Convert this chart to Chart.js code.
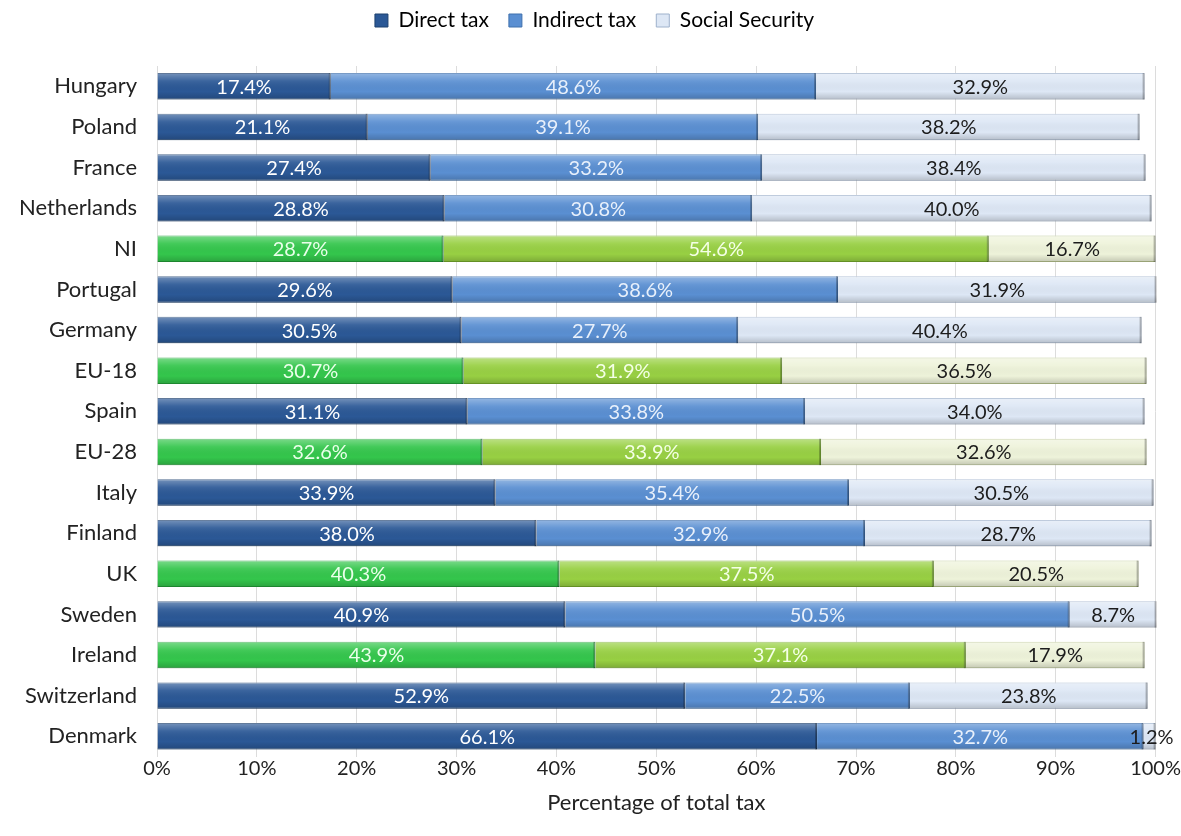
<!DOCTYPE html>
<html>
<head>
<meta charset="utf-8">
<script src="https://cdn.jsdelivr.net/npm/chart.js@4"></script>
<style>
  html, body { margin: 0; padding: 0; background: #fff; }
  #wrap { width: 1181px; height: 836px; }
</style>
</head>
<body>
<div id="wrap"><canvas id="myChart" width="1181" height="836"></canvas></div>
<script>
const categories = ['Hungary', 'Poland', 'France', 'Netherlands', 'NI', 'Portugal', 'Germany', 'EU-18', 'Spain',
    'EU-28', 'Italy', 'Finland', 'UK', 'Sweden', 'Ireland', 'Switzerland', 'Denmark'];
const directTax = [17.4, 21.1, 27.4, 28.8, 28.7, 29.6, 30.5, 30.7, 31.1, 32.6, 33.9, 38.0, 40.3, 40.9, 43.9, 52.9, 66.1];
const indirectTax = [48.6, 39.1, 33.2, 30.8, 54.6, 38.6, 27.7, 31.9, 33.8, 33.9, 35.4, 32.9, 37.5, 50.5, 37.1, 22.5, 32.7];
const socialSecurity = [32.9, 38.2, 38.4, 40.0, 16.7, 31.9, 40.4, 36.5, 34.0, 32.6, 30.5, 28.7, 20.5, 8.7, 17.9, 23.8, 1.2];
const greenRows = ['NI', 'EU-18', 'EU-28', 'UK', 'Ireland'];

const FONT = 'Lato, "Open Sans", sans-serif';

// blue for countries, green for NI / UK / EU aggregates
function rowColors(blue, green) {
    return categories.map(c => greenRows.includes(c) ? green : blue);
}

// extra room under the legend
const legendGap = {
    id: 'legendGap',
    beforeInit(chart) {
        const fit = chart.legend.fit;
        chart.legend.fit = function () {
            fit.bind(chart.legend)();
            this.height += 25;
        };
    }
};

// fake the bevelled look: light band on top, shade on bottom
const bevel = {
    id: 'bevel',
    afterDatasetsDraw(chart) {
        const ctx = chart.ctx;
        chart.data.datasets.forEach((ds, i) => {
            chart.getDatasetMeta(i).data.forEach(bar => {
                const left = Math.min(bar.x, bar.base), w = Math.abs(bar.x - bar.base);
                const top = bar.y - bar.height / 2, h = bar.height;
                const g = ctx.createLinearGradient(0, top, 0, top + h);
                g.addColorStop(0, 'rgba(255,255,255,0.35)');
                g.addColorStop(0.3, 'rgba(255,255,255,0.08)');
                g.addColorStop(0.7, 'rgba(0,0,0,0)');
                g.addColorStop(1, 'rgba(0,0,0,0.18)');
                ctx.save();
                ctx.fillStyle = g;
                ctx.fillRect(left, top, w, h);
                ctx.fillStyle = 'rgba(0,0,0,0.25)';
                ctx.fillRect(left + w - 2, top, 2, h);
                ctx.restore();
            });
        });
    }
};

// percentage written in the middle of each segment
const valueLabels = {
    id: 'valueLabels',
    afterDatasetsDraw(chart) {
        const ctx = chart.ctx;
        ctx.save();
        ctx.font = '20px ' + FONT;
        ctx.textAlign = 'center';
        ctx.textBaseline = 'middle';
        chart.data.datasets.forEach((ds, i) => {
            chart.getDatasetMeta(i).data.forEach((bar, j) => {
                const v = ds.data[j];
                let x = (bar.x + bar.base) / 2;
                if (v < 3) x = bar.x - 4;
                ctx.fillStyle = ds.labelColor[j];
                ctx.fillText(v.toFixed(1) + '%', x, bar.y + 1);
            });
        });
        ctx.restore();
    }
};

const ctx = document.getElementById('myChart');
Chart.defaults.color = '#222';
Chart.defaults.font.family = FONT;

new Chart(ctx, {
    type: 'bar',
    data: {
        labels: categories,
        datasets: [{
            label: 'Direct tax',
            data: directTax,
            backgroundColor: rowColors('#2b5896', '#34c64c'),
            borderColor: rowColors('#1d406f', '#23a038'),
            borderWidth: 1,
            labelColor: rowColors('#ffffff', '#eaffea')
        }, {
            label: 'Indirect tax',
            data: indirectTax,
            backgroundColor: rowColors('#5a8fd2', '#98d043'),
            borderColor: rowColors('#3f70ad', '#78ad2c'),
            borderWidth: 1,
            labelColor: rowColors('#e8f0fb', '#f4ffe6')
        }, {
            label: 'Social Security',
            data: socialSecurity,
            backgroundColor: rowColors('#dde7f5', '#eef3da'),
            borderColor: rowColors('#9fb2cc', '#b8c48e'),
            borderWidth: 1,
            labelColor: rowColors('#1c1c1c', '#1c1c1c')
        }]
    },
    options: {
        indexAxis: 'y',
        responsive: false,
        animation: false,
        layout: { padding: { top: -10, right: 0, bottom: 16, left: 8 } },
        datasets: {
            bar: { barPercentage: 0.65, categoryPercentage: 1.0 }
        },
        scales: {
            x: {
                stacked: true,
                min: 0,
                max: 100,
                ticks: {
                    stepSize: 10,
                    font: { size: 20 },
                    color: '#222',
                    padding: 0,
                    callback: v => v + '%'
                },
                grid: { color: '#dcdcdc', drawTicks: false },
                border: { display: false },
                title: {
                    display: true,
                    text: 'Percentage of total tax',
                    font: { size: 22 },
                    color: '#222',
                    padding: { top: 9, bottom: 4 }
                }
            },
            y: {
                stacked: true,
                ticks: { font: { size: 22 }, color: '#222', padding: 12 },
                grid: { display: false },
                border: { display: false },
                afterFit(scale) { scale.width = 149; }
            }
        },
        plugins: {
            legend: {
                position: 'top',
                labels: {
                    boxWidth: 13,
                    boxHeight: 13,
                    font: { size: 21 },
                    color: '#222',
                    padding: 20,
                    generateLabels(chart) {
                        return chart.data.datasets.map((ds, i) => ({
                            text: ds.label,
                            fillStyle: ds.backgroundColor[0],
                            strokeStyle: ds.borderColor[0],
                            lineWidth: 1,
                            datasetIndex: i
                        }));
                    }
                }
            },
            tooltip: { enabled: false }
        }
    },
    plugins: [legendGap, bevel, valueLabels]
});
</script>
</body>
</html>
